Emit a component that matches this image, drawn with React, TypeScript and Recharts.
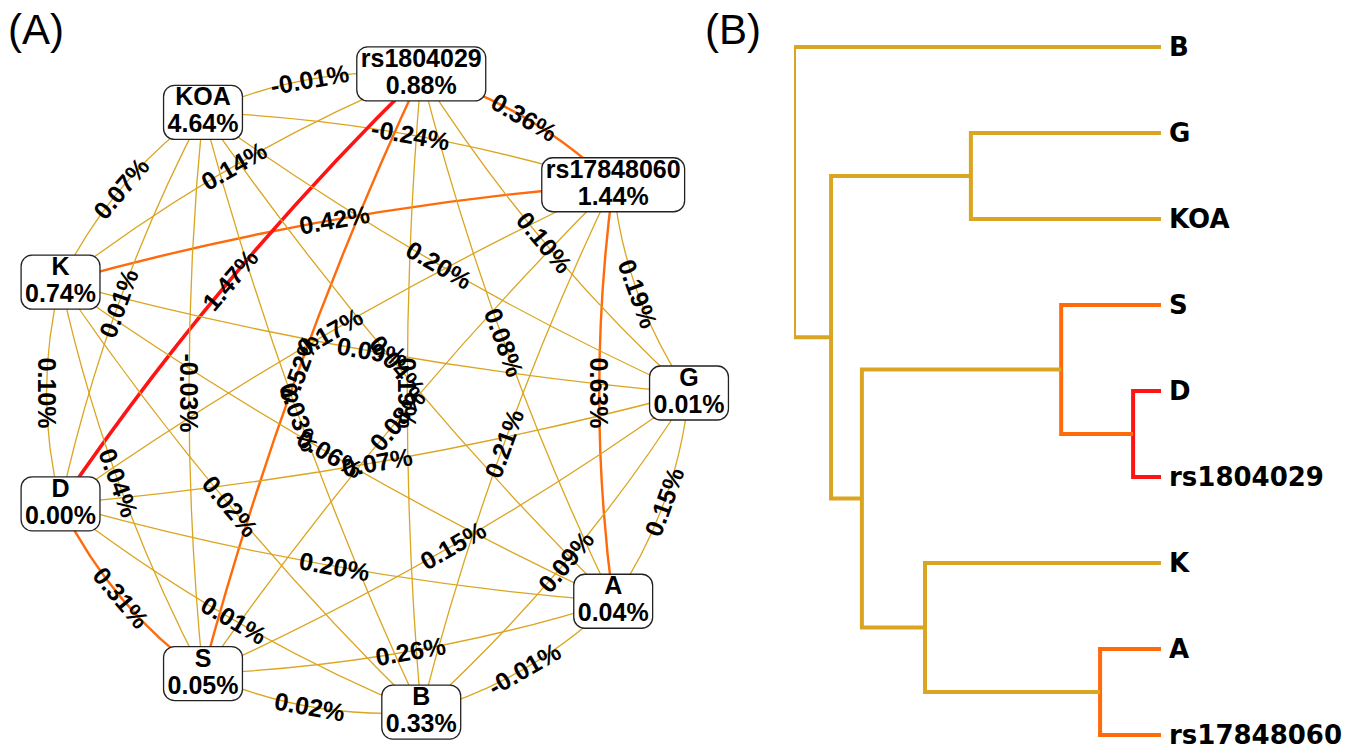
import React from 'react';
import { ScatterChart, Scatter, XAxis, YAxis, ReferenceLine } from 'recharts';

// (A) interaction network: nodes in circle order, clockwise from the right
const nodeNames = ['G', 'A', 'B', 'S', 'D', 'K', 'KOA', 'rs1804029', 'rs17848060'];
const nodeEffects = [0.01, 0.04, 0.33, 0.05, 0.0, 0.74, 4.64, 0.88, 1.44];

// pairwise interaction gains (%) as [from, to, value]
const edgeList: [string, string, number][] = [
  ['rs17848060', 'rs1804029', 0.36],
  ['rs17848060', 'KOA', -0.24],
  ['rs17848060', 'K', 0.42],
  ['rs17848060', 'D', 0.17],
  ['rs17848060', 'S', 0.08],
  ['rs17848060', 'B', 0.21],
  ['rs17848060', 'A', 0.63],
  ['rs17848060', 'G', 0.19],
  ['rs1804029', 'KOA', -0.01],
  ['rs1804029', 'K', 0.14],
  ['rs1804029', 'D', 1.47],
  ['rs1804029', 'S', 0.52],
  ['rs1804029', 'B', 0.19],
  ['rs1804029', 'A', 0.08],
  ['rs1804029', 'G', 0.10],
  ['KOA', 'K', 0.07],
  ['KOA', 'D', 0.01],
  ['KOA', 'S', -0.03],
  ['KOA', 'B', 0.03],
  ['KOA', 'A', 0.04],
  ['KOA', 'G', 0.20],
  ['K', 'D', 0.10],
  ['K', 'S', 0.04],
  ['K', 'B', 0.02],
  ['K', 'A', 0.06],
  ['K', 'G', 0.09],
  ['D', 'S', 0.31],
  ['D', 'B', 0.01],
  ['D', 'A', 0.20],
  ['D', 'G', 0.07],
  ['S', 'B', 0.02],
  ['S', 'A', 0.26],
  ['S', 'G', 0.15],
  ['B', 'A', -0.01],
  ['B', 'G', 0.09],
  ['A', 'G', 0.15],
];

// (B) dendrogram: leaves top to bottom, merges in order of height
const leafOrder = ['B', 'G', 'KOA', 'S', 'D', 'rs1804029', 'K', 'A', 'rs17848060'];
const mergeLeft = ['D', 'A', 'S', 'G', 'K', 'm2', 'm3', 'B'];
const mergeRight = ['rs1804029', 'rs17848060', 'm0', 'KOA', 'm1', 'm4', 'm5', 'm6'];
const mergeHeights = [0.076, 0.166, 0.272, 0.518, 0.643, 0.815, 0.899, 1.0];

const GOLD = '#DAA520';
const ORANGE = '#FF6A0A';
const RED = '#FF1414';
const tierColor = (v: number) => (v >= 1 ? RED : v >= 0.3 ? ORANGE : GOLD);
const tierWidth = (v: number) => (v >= 1 ? 3.6 : v >= 0.3 ? 2.4 : 1.3);

const SANS = '"Liberation Sans", Arial, Helvetica, sans-serif';
const LEAF_FONT = '"DejaVu Sans", Verdana, sans-serif';

// panel A pixel layout
const A_W = 740;
const H = 748;
const CX = 365;
const CY = 393;
const R = 324;
const BEND = 14;

// panel B pixel layout
const B_LEFT = 740;
const B_W = 615;
const ROOT_X = 794;
const LEAF_X = 1161;
const LEAF_TOP = 47;
const LEAF_STEP = 86;

const nodes = nodeNames.map((name, i) => {
  const a = (i * 2 * Math.PI) / nodeNames.length;
  return { name, value: nodeEffects[i], x: Math.cos(a), y: Math.sin(a) };
});
const nodeByName: Record<string, { x: number; y: number }> = Object.fromEntries(nodes.map((n) => [n.name, n]));

const pct = (v: number) => `${v.toFixed(2)}%`;

let ctx: CanvasRenderingContext2D | null = null;
const measure = (s: string, font: string) => {
  if (!ctx) ctx = document.createElement('canvas').getContext('2d');
  if (!ctx) return s.length * 14;
  ctx.font = font;
  return ctx.measureText(s).width;
};

const bend = (x1: number, y1: number, x2: number, y2: number) => {
  const dx = x2 - x1;
  const dy = y2 - y1;
  const len = Math.hypot(dx, dy) || 1;
  const px = -dy / len;
  const py = dx / len;
  const mx = (x1 + x2) / 2;
  const my = (y1 + y2) / 2;
  let angle = (Math.atan2(dy, dx) * 180) / Math.PI;
  if (angle > 90.5) angle -= 180;
  if (angle <= -89.5) angle += 180;
  return { qx: mx + 2 * BEND * px, qy: my + 2 * BEND * py, lx: mx + BEND * px, ly: my + BEND * py, angle };
};

const edgeShape = (value: number) => (p: any) => {
  const g = bend(p.x1, p.y1, p.x2, p.y2);
  return (
    <path
      d={`M${p.x1},${p.y1} Q${g.qx},${g.qy} ${p.x2},${p.y2}`}
      fill="none"
      stroke={tierColor(value)}
      strokeWidth={tierWidth(value)}
    />
  );
};

const labelShape = (value: number) => (p: any) => {
  const g = bend(p.x1, p.y1, p.x2, p.y2);
  return (
    <text
      x={g.lx}
      y={g.ly}
      transform={`rotate(${g.angle} ${g.lx} ${g.ly})`}
      textAnchor="middle"
      dominantBaseline="central"
      fontFamily={SANS}
      fontSize={25}
      fontWeight="bold"
      fill="#000"
    >
      {pct(value)}
    </text>
  );
};

const NodeBox = (p: any) => {
  const { cx, cy, payload } = p;
  const font = `bold 25px ${SANS}`;
  const w = Math.max(77, Math.max(measure(payload.name, font), measure(pct(payload.value), font)) + 8);
  const txt = { textAnchor: 'middle' as const, fontFamily: SANS, fontSize: 25, fontWeight: 'bold', fill: '#000' };
  return (
    <g>
      <rect x={cx - w / 2} y={cy - 27} width={w} height={54} rx={11} fill="#fff" stroke="#222" strokeWidth={1.3} />
      <text x={cx} y={cy - 7} {...txt}>{payload.name}</text>
      <text x={cx} y={cy + 20} {...txt}>{pct(payload.value)}</text>
    </g>
  );
};

// dendrogram links, coloured by average interaction between the two merged groups
const interaction = (a: string, b: string) => {
  const e = edgeList.find(([f, t]) => (f === a && t === b) || (f === b && t === a));
  return e ? e[2] : 0;
};
const clusters: Record<string, { y: number; h: number; members: string[] }> = {};
leafOrder.forEach((n, i) => {
  clusters[n] = { y: i, h: 0, members: [n] };
});
const links = mergeLeft.map((l, i) => {
  const left = clusters[l];
  const right = clusters[mergeRight[i]];
  const h = mergeHeights[i];
  let sum = 0;
  let k = 0;
  left.members.forEach((a) =>
    right.members.forEach((b) => {
      sum += interaction(a, b);
      k += 1;
    })
  );
  clusters[`m${i}`] = { y: (left.y + right.y) / 2, h, members: [...left.members, ...right.members] };
  return {
    color: tierColor(sum / k),
    points: [
      { x: left.h, y: left.y },
      { x: h, y: left.y },
      { x: h, y: right.y },
      { x: right.h, y: right.y },
    ],
  };
});

const title = { position: 'absolute' as const, top: 9, fontFamily: SANS, fontSize: 42, lineHeight: 1, color: '#000' };

export default function App() {
  const yUnitsB = H / LEAF_STEP;
  const yMinB = -LEAF_TOP / LEAF_STEP;
  return (
    <div style={{ position: 'fixed', left: 0, top: 0, width: 1355, height: H, background: '#fff' }}>
      <div style={{ position: 'absolute', left: 0, top: 0 }}>
        <ScatterChart width={A_W} height={H} margin={{ top: 0, right: 0, bottom: 0, left: 0 }}>
          <XAxis type="number" dataKey="x" domain={[-CX / R, (A_W - CX) / R]} allowDataOverflow hide />
          <YAxis type="number" dataKey="y" domain={[-CY / R, (H - CY) / R]} allowDataOverflow reversed hide />
          {edgeList.map(([f, t, v]) => (
            <ReferenceLine
              key={`e-${f}-${t}`}
              segment={[
                { x: nodeByName[f].x, y: nodeByName[f].y },
                { x: nodeByName[t].x, y: nodeByName[t].y },
              ]}
              ifOverflow="visible"
              shape={edgeShape(v)}
            />
          ))}
          {edgeList.map(([f, t, v]) => (
            <ReferenceLine
              key={`l-${f}-${t}`}
              segment={[
                { x: nodeByName[f].x, y: nodeByName[f].y },
                { x: nodeByName[t].x, y: nodeByName[t].y },
              ]}
              ifOverflow="visible"
              shape={labelShape(v)}
            />
          ))}
          <Scatter data={nodes} shape={NodeBox} isAnimationActive={false} />
        </ScatterChart>
      </div>
      <div style={{ position: 'absolute', left: B_LEFT, top: 0 }}>
        <ScatterChart
          width={B_W}
          height={H}
          margin={{ top: 0, right: 0, bottom: 0, left: ROOT_X - B_LEFT }}
        >
          <XAxis type="number" dataKey="x" domain={[0, 1]} allowDataOverflow reversed hide />
          <YAxis
            type="number"
            dataKey="y"
            orientation="right"
            reversed
            allowDataOverflow
            domain={[yMinB, yMinB + yUnitsB]}
            ticks={leafOrder.map((_, i) => i)}
            interval={0}
            tickFormatter={(i: number) => leafOrder[i] ?? ''}
            axisLine={false}
            tickLine={false}
            width={B_LEFT + B_W - LEAF_X}
            tick={{ fill: '#000', fontSize: 26, fontWeight: 'bold', fontFamily: LEAF_FONT }}
          />
          {links.map((lk, i) => (
            <Scatter
              key={`m${i}`}
              data={lk.points}
              fill={lk.color}
              line={{ stroke: lk.color, strokeWidth: 4 }}
              lineType="joint"
              shape={() => <g />}
              isAnimationActive={false}
            />
          ))}
        </ScatterChart>
      </div>
      <div style={{ ...title, left: 8 }}>(A)</div>
      <div style={{ ...title, left: 705 }}>(B)</div>
    </div>
  );
}
